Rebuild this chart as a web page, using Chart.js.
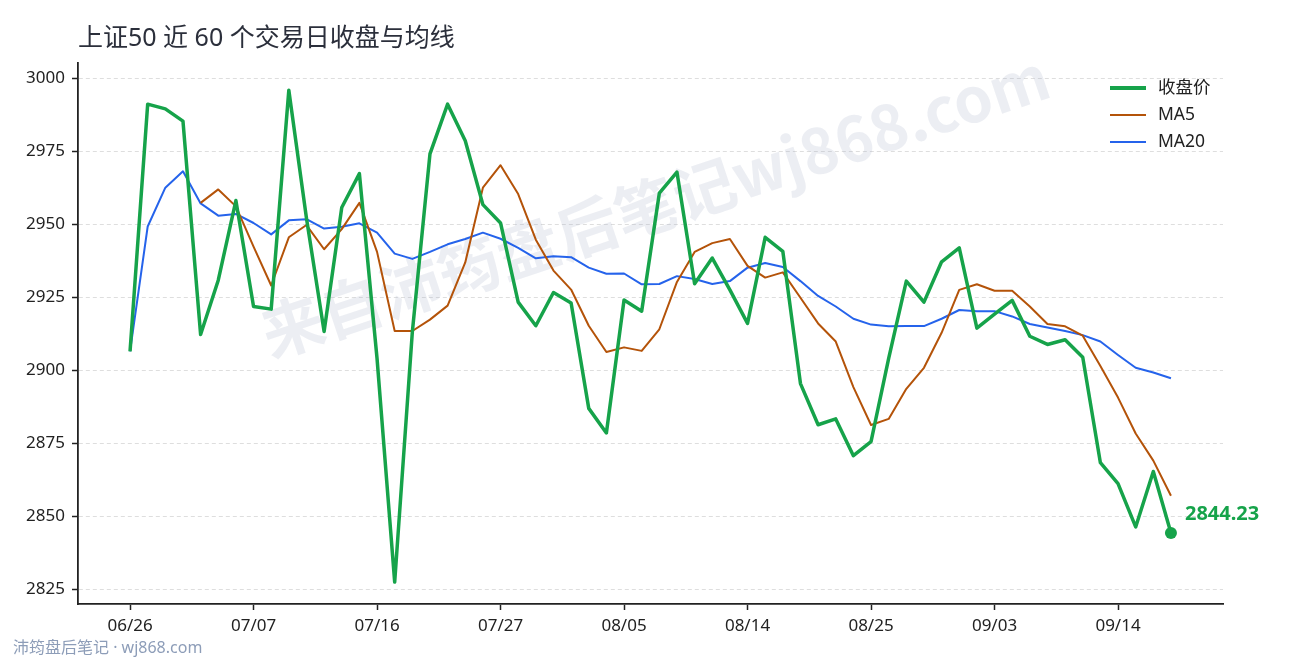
<!DOCTYPE html>
<html lang="zh-CN">
<head>
<meta charset="utf-8">
<title>上证50 近 60 个交易日收盘与均线</title>
<script src="https://cdn.jsdelivr.net/npm/chart.js@4.4.1/dist/chart.umd.min.js"></script>
<style>
  html, body { margin: 0; padding: 0; background: #ffffff; }
  #wadah { position: relative; width: 1290px; height: 660px; overflow: hidden; }
  #grafik { position: absolute; left: 0; top: 0; }
  #judul {
    position: absolute; left: 78px; top: 23px;
    font: 25px/26px "Noto Sans", "Noto Sans CJK SC", sans-serif;
    color: #2b2f3b; white-space: nowrap;
  }
  #kaki {
    position: absolute; left: 13px; top: 639px;
    font: 16px/17px "Noto Sans", "Noto Sans CJK SC", sans-serif;
    color: #8d9db8; white-space: nowrap;
  }
</style>
</head>
<body>
<div id="wadah">
  <canvas id="grafik" width="1290" height="660"></canvas>
  <div id="judul">上证50 近 60 个交易日收盘与均线</div>
  <div id="kaki">沛筠盘后笔记 · wj868.com</div>
</div>

<script>
// =================================================================
// DATA
// =================================================================
const tanggal = [
  "06/26", "06/29", "06/30", "07/01", "07/02", "07/03", "07/06", "07/07", "07/08", "07/09",
  "07/10", "07/13", "07/14", "07/15", "07/16", "07/17", "07/20", "07/21", "07/22", "07/23",
  "07/24", "07/27", "07/28", "07/29", "07/30", "07/31", "08/03", "08/04", "08/05", "08/06",
  "08/07", "08/10", "08/11", "08/12", "08/13", "08/14", "08/17", "08/18", "08/19", "08/20",
  "08/21", "08/24", "08/25", "08/26", "08/27", "08/28", "08/31", "09/01", "09/02", "09/03",
  "09/04", "09/07", "09/08", "09/09", "09/10", "09/11", "09/14", "09/15", "09/16", "09/17"
];

const hargaTutup = [
  2906.4, 2991.1, 2989.5, 2985.3, 2912.2, 2930.8, 2958.1, 2921.8, 2920.9, 2995.9,
  2952.0, 2913.2, 2955.7, 2967.3, 2904.0, 2827.4, 2913.0, 2974.1, 2991.1, 2978.6,
  2956.7, 2950.4, 2923.3, 2915.2, 2926.6, 2923.0, 2886.9, 2878.5, 2924.0, 2920.2,
  2960.6, 2967.8, 2929.6, 2938.4, 2927.5, 2916.0, 2945.5, 2940.7, 2895.4, 2881.3,
  2883.3, 2870.7, 2875.5, 2904.0, 2930.5, 2923.3, 2937.1, 2941.9, 2914.4, 2919.2,
  2923.9, 2911.6, 2908.8, 2910.4, 2904.4, 2868.3, 2861.1, 2846.3, 2865.3, 2844.23
];

// MA5 baru muncul mulai hari ke-5
const ma5 = [
  null, null, null, null, 2957.3, 2961.9, 2956.1, 2942.3, 2929.0, 2945.5,
  2949.7, 2941.4, 2948.3, 2957.3, 2940.5, 2913.4, 2913.4, 2917.3, 2922.1, 2936.9,
  2962.5, 2970.2, 2960.3, 2944.7, 2934.1, 2927.6, 2915.2, 2906.2, 2907.8, 2906.6,
  2914.0, 2930.2, 2940.5, 2943.5, 2944.9, 2935.7, 2931.7, 2933.5, 2924.8, 2916.0,
  2909.8, 2894.2, 2881.2, 2883.3, 2893.6, 2900.8, 2912.8, 2927.5, 2929.4, 2927.2,
  2927.2, 2921.8, 2915.8, 2915.0, 2911.8, 2901.4, 2890.6, 2878.3, 2869.0, 2857.0
];

const ma20 = [
  2906.4, 2949.2, 2962.5, 2968.1, 2957.1, 2952.9, 2953.5, 2950.4, 2946.5, 2951.3,
  2951.7, 2948.5, 2949.1, 2950.3, 2947.1, 2939.9, 2938.1, 2940.5, 2943.1, 2944.9,
  2947.1, 2945.0, 2941.9, 2938.3, 2939.0, 2938.7, 2935.1, 2933.0, 2933.1, 2929.4,
  2929.5, 2932.2, 2931.2, 2929.5, 2930.5, 2935.1, 2936.7, 2935.3, 2930.5, 2925.4,
  2921.8, 2917.6, 2915.6, 2915.0, 2915.1, 2915.1, 2917.6, 2920.6, 2920.2, 2920.2,
  2918.4, 2915.8, 2914.6, 2913.4, 2912.0, 2909.8, 2905.2, 2900.8, 2899.2, 2897.2
];

// label sumbu
const posisiTickX = [0, 7, 14, 21, 28, 35, 42, 49, 56];
const tickY = [2825, 2850, 2875, 2900, 2925, 2950, 2975, 3000];

const WARNA_TUTUP = "#16a34a";
const WARNA_MA5 = "#b45309";
const WARNA_MA20 = "#2563eb";
const FONT_DASAR = '"Noto Sans", "Noto Sans CJK SC", sans-serif';

function jadiTitik(arr) {
  return arr.map((v, i) => ({ x: i, y: v }));
}

/**
 * PLUGIN: watermark miring di belakang garis
 */
const pluginWatermark = {
  id: "watermark",
  beforeDatasetsDraw(chart) {
    const ctx = chart.ctx;
    ctx.save();
    ctx.translate(655, 205);
    ctx.rotate(-18.5 * Math.PI / 180);
    ctx.font = 'bold 62px "Noto Sans CJK SC", "Noto Sans", sans-serif';
    ctx.fillStyle = "rgba(170, 178, 200, 0.22)";
    ctx.textAlign = "center";
    ctx.textBaseline = "middle";
    ctx.fillText("来自沛筠盘后笔记wj868.com", 0, 0);
    ctx.restore();
  }
};

/**
 * PLUGIN: label harga terakhir + legenda di pojok kanan atas
 */
const pluginLabel = {
  id: "labelAkhir",
  afterDatasetsDraw(chart) {
    const ctx = chart.ctx;
    const meta = chart.getDatasetMeta(0);
    const titik = meta.data[meta.data.length - 1];
    const nilai = hargaTutup[hargaTutup.length - 1];

    ctx.save();
    ctx.font = "bold 20px " + FONT_DASAR;
    ctx.fillStyle = WARNA_TUTUP;
    ctx.textAlign = "left";
    ctx.textBaseline = "middle";
    ctx.fillText(nilai.toFixed(2), titik.x + 14, titik.y - 19);

    // legenda manual (vertikal)
    const item = [
      { teks: "收盘价", warna: WARNA_TUTUP, tebal: 4 },
      { teks: "MA5", warna: WARNA_MA5, tebal: 2 },
      { teks: "MA20", warna: WARNA_MA20, tebal: 2 }
    ];
    ctx.font = "17.5px " + FONT_DASAR;
    item.forEach((it, i) => {
      const y = 88 + i * 27;
      ctx.beginPath();
      ctx.strokeStyle = it.warna;
      ctx.lineWidth = it.tebal;
      ctx.moveTo(1110, y);
      ctx.lineTo(1146, y);
      ctx.stroke();
      ctx.fillStyle = "#222222";
      ctx.fillText(it.teks, 1158, y);
    });
    ctx.restore();
  }
};

new Chart(document.getElementById("grafik"), {
  type: "line",
  data: {
    datasets: [
      {
        label: "收盘价",
        data: jadiTitik(hargaTutup),
        borderColor: WARNA_TUTUP,
        backgroundColor: WARNA_TUTUP,
        borderWidth: 3.5,
        borderJoinStyle: "round",
        pointRadius: (c) => (c.dataIndex === hargaTutup.length - 1 ? 6 : 0),
        pointBorderWidth: 0,
        tension: 0
      },
      {
        label: "MA5",
        data: jadiTitik(ma5),
        borderColor: WARNA_MA5,
        borderWidth: 2,
        borderJoinStyle: "round",
        pointRadius: 0,
        tension: 0
      },
      {
        label: "MA20",
        data: jadiTitik(ma20),
        borderColor: WARNA_MA20,
        borderWidth: 2,
        borderJoinStyle: "round",
        pointRadius: 0,
        tension: 0
      }
    ]
  },
  options: {
    responsive: false,
    animation: false,
    layout: { padding: { top: 63, right: 67, left: 0, bottom: 0 } },
    plugins: {
      legend: { display: false },
      tooltip: { enabled: false }
    },
    scales: {
      x: {
        type: "linear",
        min: -2.95,
        max: 61.95,
        afterBuildTicks: (s) => { s.ticks = posisiTickX.map((v) => ({ value: v })); },
        afterFit: (s) => { s.height = 56; },
        ticks: {
          autoSkip: false,
          maxRotation: 0,
          padding: 6,
          color: "#222222",
          font: { family: FONT_DASAR, size: 17 },
          callback: (v) => tanggal[v]
        },
        grid: {
          drawOnChartArea: false,
          tickLength: 6,
          tickColor: "#222222",
          tickWidth: 1.5,
          tickBorderDash: [6, 0]
        },
        border: { color: "#222222", width: 1.8 }
      },
      y: {
        min: 2819.9,
        max: 3005.2,
        afterBuildTicks: (s) => { s.ticks = tickY.map((v) => ({ value: v })); },
        afterFit: (s) => { s.width = 78; },
        ticks: {
          padding: 7,
          color: "#222222",
          font: { family: FONT_DASAR, size: 17 },
          callback: (v) => String(v)
        },
        grid: {
          color: "#dedede",
          lineWidth: 1,
          tickLength: 6,
          tickColor: "#222222",
          tickWidth: 1.5,
          tickBorderDash: [6, 0]
        },
        border: { color: "#222222", width: 1.8, dash: [4, 3] }
      }
    }
  },
  plugins: [pluginWatermark, pluginLabel]
});
</script>
</body>
</html>
